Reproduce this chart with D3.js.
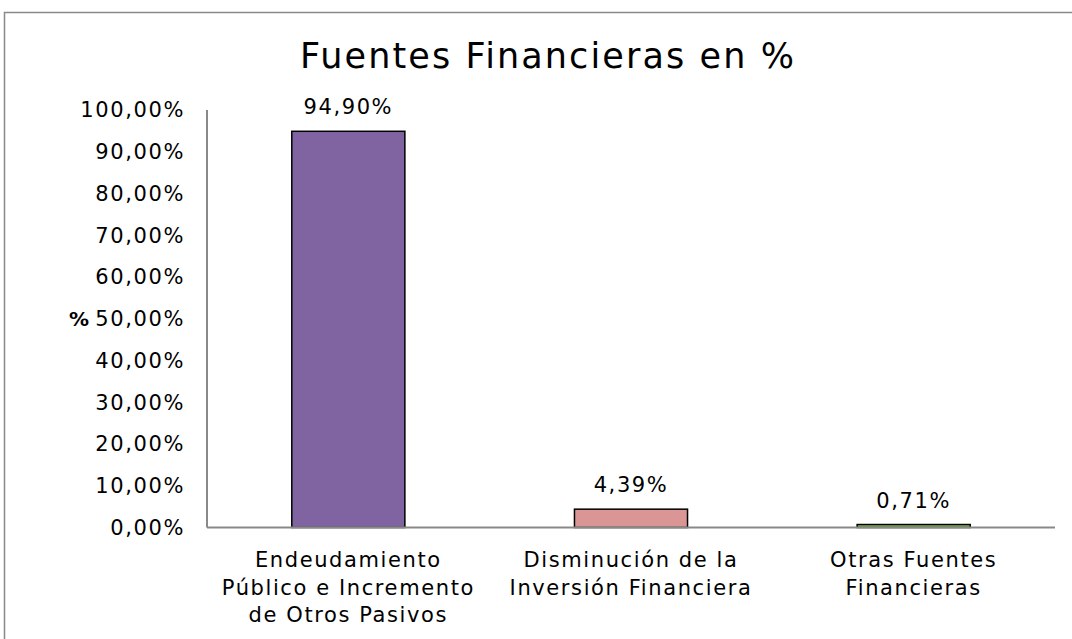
<!DOCTYPE html>
<html>
<head>
<meta charset="utf-8">
<script src="https://cdn.jsdelivr.net/npm/d3@7"></script>
<style>
  body { margin: 0; background: #fff; }
  text { font-family: "DejaVu Sans", sans-serif; fill: #000; }
</style>
</head>
<body>
<svg id="chart"></svg>
<script>
// Chart data
var categories = [
  ["Endeudamiento", "Público e Incremento", "de Otros Pasivos"],
  ["Disminución de la", "Inversión Financiera"],
  ["Otras Fuentes", "Financieras"]
];
var values = [94.90, 4.39, 0.71];
var barColors = ["#8064A2", "#D99694", "#84C44A"];
var yTicks = [0, 10, 20, 30, 40, 50, 60, 70, 80, 90, 100];

var width = 1072, height = 639;
var svg = d3.select("#chart").attr("width", width).attr("height", height);

// Outer chart border (only top and left visible in frame)
svg.append("rect")
  .attr("x", 4.5).attr("y", 12.5)
  .attr("width", 1100).attr("height", 700)
  .attr("fill", "none")
  .attr("stroke", "#898989")
  .attr("stroke-width", 1.5);

var plotLeft = 207, plotRight = 1055, plotTop = 110, plotBottom = 527.5;

var x = d3.scaleBand()
  .domain(d3.range(values.length))
  .range([plotLeft, plotRight])
  .paddingInner(0.6)
  .paddingOuter(0.3);

var y = d3.scaleLinear().domain([0, 100]).range([plotBottom, plotTop]);

function fmt(v) { return d3.format(".2f")(v).replace(".", ",") + "%"; }

var fs = "21px", ls = "1.6px";

// Title
svg.append("text")
  .attr("x", 548).attr("y", 68)
  .attr("text-anchor", "middle")
  .style("font-size", "35px")
  .style("letter-spacing", "2.1px")
  .text("Fuentes Financieras en %");

// Y axis labels
svg.selectAll(".ytick")
  .data(yTicks)
  .enter().append("text")
  .attr("class", "ytick")
  .attr("x", 185)
  .attr("y", function(d) { return y(d); })
  .attr("dy", "0.35em")
  .attr("text-anchor", "end")
  .style("font-size", fs)
  .style("letter-spacing", ls)
  .text(function(d) { return fmt(d); });

// Y axis title
svg.append("text")
  .attr("x", 79).attr("y", y(50))
  .attr("dy", "0.35em")
  .attr("text-anchor", "middle")
  .style("font-size", "20px")
  .style("font-weight", "bold")
  .text("%");

// Bars
svg.selectAll(".bar")
  .data(values)
  .enter().append("rect")
  .attr("class", "bar")
  .attr("x", function(d, i) { return x(i); })
  .attr("y", function(d) { return y(d); })
  .attr("width", x.bandwidth())
  .attr("height", function(d) { return plotBottom - y(d); })
  .attr("fill", function(d, i) { return barColors[i]; })
  .attr("stroke", "#000")
  .attr("stroke-width", 1.5);

// Axis lines
svg.append("line")
  .attr("x1", plotLeft).attr("x2", plotLeft)
  .attr("y1", plotTop).attr("y2", plotBottom)
  .attr("stroke", "#898989").attr("stroke-width", 2);
svg.append("line")
  .attr("x1", plotLeft).attr("x2", plotRight)
  .attr("y1", plotBottom).attr("y2", plotBottom)
  .attr("stroke", "#898989").attr("stroke-width", 2);

// Value labels
svg.selectAll(".vlabel")
  .data(values)
  .enter().append("text")
  .attr("class", "vlabel")
  .attr("x", function(d, i) { return x(i) + x.bandwidth() / 2; })
  .attr("y", function(d) { return y(d) - 17; })
  .attr("text-anchor", "middle")
  .style("font-size", fs)
  .style("letter-spacing", ls)
  .text(function(d) { return fmt(d); });

// Category labels
categories.forEach(function(lines, i) {
  var t = svg.append("text")
    .attr("text-anchor", "middle")
    .style("font-size", fs)
    .style("letter-spacing", ls);
  lines.forEach(function(line, j) {
    t.append("tspan")
      .attr("x", x(i) + x.bandwidth() / 2)
      .attr("y", 567 + j * 27.5)
      .text(line);
  });
});
</script>
</body>
</html>
